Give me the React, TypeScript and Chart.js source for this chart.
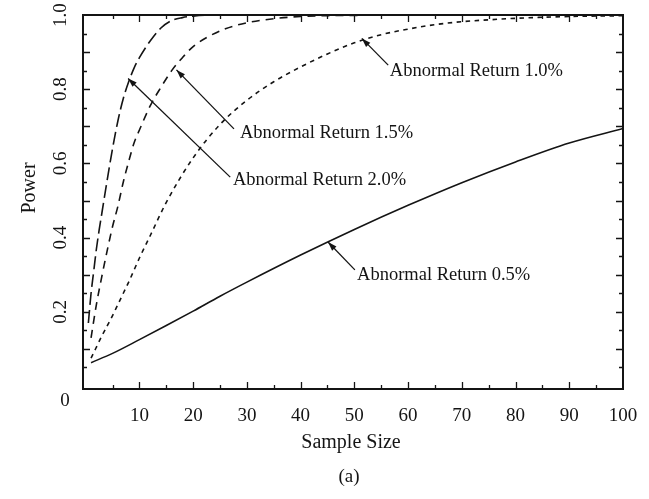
import React, { useEffect, useRef } from 'react';
import { Chart, registerables } from 'chart.js';

Chart.register(...registerables);

const INK = '#141414';
const FONT = '"Liberation Serif", "Times New Roman", serif';

// Sample sizes (x) and power (y)
const sampleSizes05 = [1, 5, 10, 15, 20, 25, 30, 40, 50, 60, 70, 80, 90, 100];
const power05 = [0.063, 0.088, 0.125, 0.163, 0.202, 0.242, 0.28, 0.353, 0.422, 0.487, 0.548, 0.604, 0.655, 0.694];

const sampleSizes10 = [1, 2, 3, 4, 5, 6, 7, 8, 10, 12, 15, 20, 25, 30, 35, 40, 45, 50, 55, 60, 65, 70, 75, 80, 90, 100];
const power10 = [0.075, 0.105, 0.135, 0.162, 0.19, 0.22, 0.25, 0.28, 0.345, 0.405, 0.495, 0.615, 0.705, 0.77, 0.82, 0.86, 0.895, 0.925, 0.947, 0.962, 0.974, 0.982, 0.987, 0.991, 0.996, 0.998];

const sampleSizes15 = [1, 2, 3, 4, 5, 6, 7, 8, 9, 10, 12, 14, 16, 18, 20, 23, 26, 30, 35, 40, 50, 60, 100];
const power15 = [0.13, 0.22, 0.295, 0.365, 0.43, 0.485, 0.55, 0.605, 0.655, 0.69, 0.755, 0.805, 0.85, 0.885, 0.915, 0.943, 0.963, 0.979, 0.99, 0.996, 0.999, 1.0, 1.0];

const sampleSizes20 = [0.5, 1, 1.5, 2, 2.5, 3, 4, 5, 6, 7, 8, 9, 10, 12, 14, 16, 18, 20, 25, 30, 100];
const power20 = [0.17, 0.25, 0.31, 0.37, 0.42, 0.465, 0.555, 0.64, 0.715, 0.775, 0.82, 0.857, 0.885, 0.93, 0.965, 0.985, 0.993, 0.997, 1.0, 1.0, 1.0];

// Axis tick marks (inward) and labels
const xTickMarks = [5, 10, 15, 20, 25, 30, 35, 40, 45, 50, 55, 60, 65, 70, 75, 80, 85, 90, 95];
const yTickMarks = [0.05, 0.1, 0.15, 0.2, 0.25, 0.3, 0.35, 0.4, 0.45, 0.5, 0.55, 0.6, 0.65, 0.7, 0.75, 0.8, 0.85, 0.9, 0.95];
const xTickLabels = ['10', '20', '30', '40', '50', '60', '70', '80', '90', '100'];
const yTickLabels = ['0.2', '0.4', '0.6', '0.8', '1.0'];

// Annotations: label, arrow tip, arrow tail, text anchor (data units)
const annLabels = ['Abnormal Return 1.0%', 'Abnormal Return 1.5%', 'Abnormal Return 2.0%', 'Abnormal Return 0.5%'];
const annTipX = [51.4, 16.9, 7.9, 45.1];
const annTipY = [0.937, 0.852, 0.829, 0.388];
const annTailX = [56.3, 27.6, 26.9, 50.1];
const annTailY = [0.865, 0.693, 0.563, 0.313];
const annTextX = [56.6, 28.7, 27.4, 50.5];
const annTextY = [0.849, 0.682, 0.555, 0.299];

const toPoints = (xs: number[], ys: number[]) => xs.map((x, i) => ({ x, y: ys[i] }));

const decorPlugin = {
  id: 'decor',
  afterDraw(chart: any) {
    const { ctx, chartArea: a, scales } = chart;
    const xs = scales.x;
    const ys = scales.y;
    ctx.save();
    ctx.strokeStyle = INK;
    ctx.fillStyle = INK;
    // frame
    ctx.lineWidth = 2;
    ctx.strokeRect(a.left, a.top, a.right - a.left, a.bottom - a.top);
    // tick marks
    ctx.lineWidth = 1.3;
    ctx.beginPath();
    xTickMarks.forEach((v) => {
      const p = Math.round(xs.getPixelForValue(v)) + 0.5;
      const len = v % 10 === 0 ? 7 : 4;
      ctx.moveTo(p, a.bottom);
      ctx.lineTo(p, a.bottom - len);
      ctx.moveTo(p, a.top);
      ctx.lineTo(p, a.top + len);
    });
    yTickMarks.forEach((v) => {
      const p = Math.round(ys.getPixelForValue(v)) + 0.5;
      const len = Math.abs(Math.round(v * 100) % 10) === 0 ? 7 : 4;
      ctx.moveTo(a.left, p);
      ctx.lineTo(a.left + len, p);
      ctx.moveTo(a.right, p);
      ctx.lineTo(a.right - len, p);
    });
    ctx.stroke();

    // annotations
    ctx.font = `18.5px ${FONT}`;
    ctx.textAlign = 'left';
    ctx.textBaseline = 'middle';
    annLabels.forEach((label, i) => {
      const tx = xs.getPixelForValue(annTipX[i]);
      const ty = ys.getPixelForValue(annTipY[i]);
      const sx = xs.getPixelForValue(annTailX[i]);
      const sy = ys.getPixelForValue(annTailY[i]);
      ctx.lineWidth = 1.3;
      ctx.beginPath();
      ctx.moveTo(sx, sy);
      ctx.lineTo(tx, ty);
      ctx.stroke();
      const ang = Math.atan2(ty - sy, tx - sx);
      const L = 9;
      const W = 3;
      ctx.beginPath();
      ctx.moveTo(tx, ty);
      ctx.lineTo(tx - L * Math.cos(ang) + W * Math.sin(ang), ty - L * Math.sin(ang) - W * Math.cos(ang));
      ctx.lineTo(tx - L * Math.cos(ang) - W * Math.sin(ang), ty - L * Math.sin(ang) + W * Math.cos(ang));
      ctx.closePath();
      ctx.fill();
      ctx.fillText(label, xs.getPixelForValue(annTextX[i]), ys.getPixelForValue(annTextY[i]));
    });

    // axis titles, origin label, caption
    ctx.textAlign = 'center';
    ctx.font = `20px ${FONT}`;
    ctx.fillText('Sample Size', (a.left + a.right) / 2 - 2, a.bottom + 54);
    ctx.font = `19px ${FONT}`;
    ctx.fillText('(a)', (a.left + a.right) / 2 - 4, a.bottom + 88);
    ctx.fillText('0', a.left - 18, a.bottom + 12);
    ctx.save();
    ctx.translate(30, a.top + 173);
    ctx.rotate(-Math.PI / 2);
    ctx.font = `20px ${FONT}`;
    ctx.fillText('Power', 0, 0);
    ctx.restore();
    ctx.restore();
  },
};

export default function App() {
  const ref = useRef<HTMLCanvasElement>(null);
  useEffect(() => {
    document.body.style.margin = '0';
    const line = { pointRadius: 0, borderColor: INK, borderWidth: 1.6, fill: false, cubicInterpolationMode: 'monotone' as const };
    const chart = new Chart(ref.current!, {
      type: 'line',
      data: {
        datasets: [
          { ...line, label: '0.5%', data: toPoints(sampleSizes05, power05) },
          { ...line, label: '1.0%', data: toPoints(sampleSizes10, power10), borderDash: [4.5, 4.5] },
          { ...line, label: '1.5%', data: toPoints(sampleSizes15, power15), borderDash: [8, 6] },
          { ...line, label: '2.0%', data: toPoints(sampleSizes20, power20), borderDash: [13, 5] },
        ],
      },
      options: {
        animation: false,
        responsive: true,
        maintainAspectRatio: false,
        layout: { padding: { left: 0, right: 26, top: 15, bottom: 0 } },
        plugins: { legend: { display: false }, tooltip: { enabled: false }, title: { display: false } },
        scales: {
          x: {
            type: 'linear',
            min: -0.5,
            max: 100,
            grid: { display: false },
            border: { display: false },
            afterFit: (s: any) => { s.height = 110; s.paddingLeft = 0; s.paddingRight = 0; },
            ticks: {
              stepSize: 10,
              includeBounds: false,
              autoSkip: false,
              maxRotation: 0,
              padding: 8,
              color: INK,
              font: { family: FONT, size: 19 },
              callback: (v: any) => {
                const idx = Math.round(Number(v) / 10) - 1;
                return idx >= 0 && idx < xTickLabels.length ? xTickLabels[idx] : '';
              },
            },
          },
          y: {
            type: 'linear',
            min: -0.008,
            max: 1.0,
            grid: { display: false },
            border: { display: false },
            afterFit: (s: any) => { s.width = 83; s.paddingTop = 0; s.paddingBottom = 0; },
            ticks: {
              stepSize: 0.2,
              includeBounds: false,
              autoSkip: false,
              minRotation: 90,
              maxRotation: 90,
              crossAlign: 'center',
              padding: 2,
              color: INK,
              font: { family: FONT, size: 19 },
              callback: (v: any) => {
                const idx = Math.round(Number(v) / 0.2) - 1;
                return idx >= 0 && idx < yTickLabels.length ? yTickLabels[idx] : '';
              },
            },
          },
        },
      },
      plugins: [decorPlugin],
    });
    return () => chart.destroy();
  }, []);
  return (
    <div style={{ position: 'absolute', left: 0, top: 0, width: 649, height: 499 }}>
      <canvas ref={ref} />
    </div>
  );
}
